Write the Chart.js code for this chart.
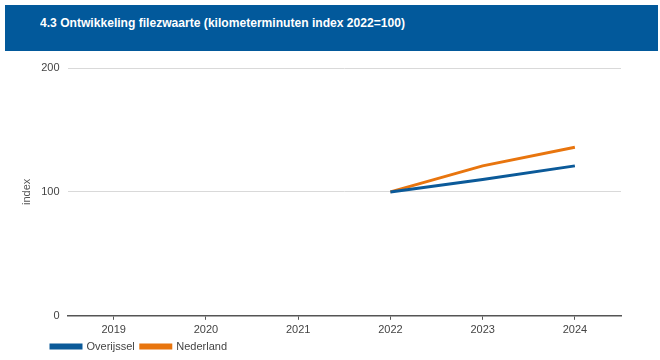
<!DOCTYPE html>
<html>
<head>
<meta charset="utf-8">
<script src="https://cdn.jsdelivr.net/npm/chart.js@4"></script>
<style>
  html, body { margin: 0; padding: 0; background: #fff; }
  body { width: 660px; height: 360px; position: relative; overflow: hidden; font-family: "Liberation Sans", Arial, sans-serif; }
  #hdr { position: absolute; left: 5px; top: 5px; width: 653px; height: 46px; background: #02599b; }
  #ttl { position: absolute; left: 35px; top: 11px; color: #fff; font: bold 12px "Liberation Sans", Arial, sans-serif; white-space: nowrap; transform-origin: 0 0; }
  #wrap { position: absolute; left: 0; top: 51px; width: 660px; height: 309px; }
</style>
</head>
<body>
<div id="hdr"><div id="ttl">4.3 Ontwikkeling filezwaarte (kilometerminuten index 2022=100)</div></div>
<div id="wrap"><canvas id="c"></canvas></div>
<script>
const categories = ["2019", "2020", "2021", "2022", "2023", "2024"];
const overijssel = [null, null, null, 100, 110, 121];
const nederland = [null, null, null, 100, 121, 136];
const yTicks = [0, 100, 200];
const seriesNames = ["Overijssel", "Nederland"];
const seriesColors = ["#0b5a99", "#e8750e"];

// fit title width to reference
const ttl = document.getElementById('ttl');
const w = ttl.getBoundingClientRect().width;
ttl.style.transform = 'scaleX(' + (365 / w) + ')';

const FONT = '"Liberation Sans", Arial, sans-serif';

const legendShift = {
  id: 'legendShift',
  afterLayout(chart) { chart.legend.left += 29; }
};

new Chart(document.getElementById('c'), {
  type: 'line',
  data: {
    labels: categories,
    datasets: [
      { label: seriesNames[0], data: overijssel, borderColor: seriesColors[0], backgroundColor: seriesColors[0], borderWidth: 3, pointRadius: 0, tension: 0 },
      { label: seriesNames[1], data: nederland, borderColor: seriesColors[1], backgroundColor: seriesColors[1], borderWidth: 3, pointRadius: 0, tension: 0 }
    ]
  },
  options: {
    responsive: true,
    maintainAspectRatio: false,
    animation: false,
    layout: { padding: { left: 16, right: 39, top: 17, bottom: -2 } },
    plugins: {
      legend: {
        position: 'bottom',
        align: 'start',
        labels: { boxWidth: 30, boxHeight: 3, color: '#444', font: { size: 11, family: FONT }, padding: 6 }
      },
      tooltip: { enabled: false }
    },
    scales: {
      x: {
        offset: true,
        afterFit(scale) { scale.height -= 6; },
        grid: { drawOnChartArea: false, drawTicks: true, tickLength: 4, color: '#555', offset: false },
        border: { color: '#555', width: 1.5 },
        ticks: { color: '#444', font: { size: 11, family: FONT }, padding: 4 }
      },
      y: {
        min: 0, max: 200,
        afterBuildTicks(scale) { scale.ticks = yTicks.map(v => ({ value: v })); },
        grid: { color: '#d9d9d9', drawTicks: false },
        border: { display: false },
        ticks: { color: '#444', font: { size: 11, family: FONT }, padding: 8 },
        title: { display: true, text: 'index', color: '#555', font: { size: 11, family: FONT }, padding: { top: 4, bottom: 0 } }
      }
    }
  },
  plugins: [legendShift]
});
</script>
</body>
</html>
